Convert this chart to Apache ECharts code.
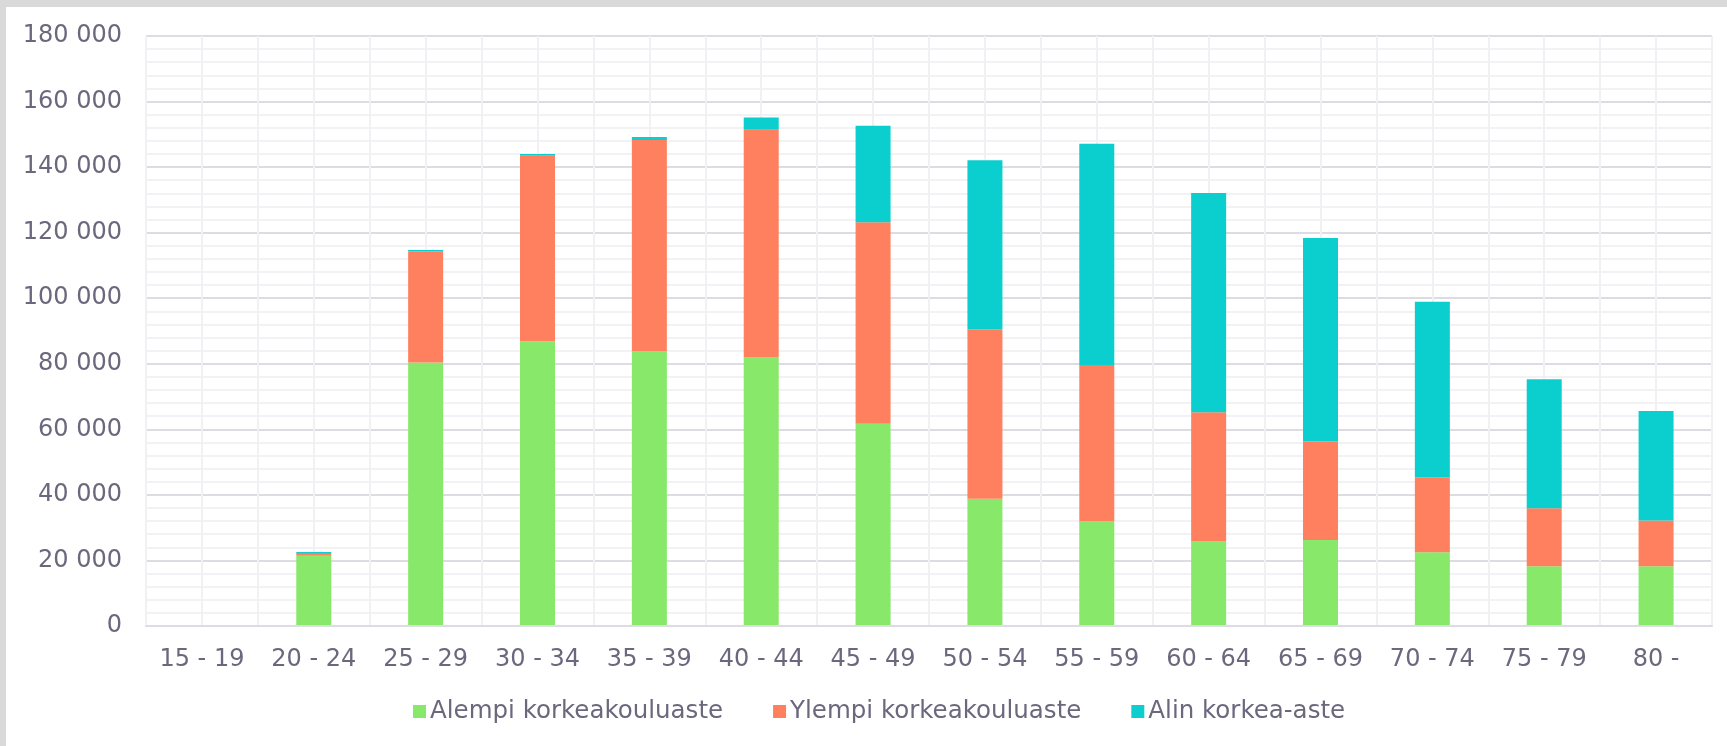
<!DOCTYPE html>
<html>
<head>
<meta charset="utf-8">
<script src="https://cdn.jsdelivr.net/npm/echarts@6/dist/echarts.min.js"></script>
<style>
  html, body { margin: 0; padding: 0; background: #d9d9d9; width: 1727px; height: 746px; overflow: hidden; }
  #chart { position: absolute; left: 6px; top: 7px; width: 1721px; height: 739px; background: #ffffff; }
</style>
</head>
<body>
<div id="chart"></div>
<script>
const categories = ['15 - 19', '20 - 24', '25 - 29', '30 - 34', '35 - 39', '40 - 44', '45 - 49', '50 - 54', '55 - 59', '60 - 64', '65 - 69', '70 - 74', '75 - 79', '80 -'];
const seriesNames = ['Alempi korkeakouluaste', 'Ylempi korkeakouluaste', 'Alin korkea-aste'];
const alempi = [0, 21400, 80400, 86900, 83900, 82100, 61700, 38800, 32000, 25900, 26200, 22500, 18200, 18200];
const ylempi = [0, 850, 33900, 56600, 64400, 69300, 61500, 51700, 47600, 39300, 30100, 22900, 17700, 14000];
const alin = [0, 300, 400, 500, 900, 3700, 29400, 51600, 67500, 66900, 62100, 53500, 39400, 33400];
const yTicks = { min: 0, max: 180000, interval: 20000 };

const colors = ['#87e86a', '#ff805e', '#0bcfcf'];
const textColor = '#6b687d';
const font = 'DejaVu Sans';

const halfSlots = [];
categories.forEach(() => { halfSlots.push(''); halfSlots.push(''); });

const chart = echarts.init(document.getElementById('chart'), null, { renderer: 'canvas' });
chart.setOption({
  animation: false,
  color: colors,
  textStyle: { fontFamily: font },
  grid: { left: 140, top: 29, right: 15, bottom: 120, containLabel: false },
  legend: {
    data: seriesNames,
    left: 407,
    top: 692,
    padding: 0,
    icon: 'rect',
    itemWidth: 13,
    itemHeight: 13,
    itemGap: 50,
    textStyle: { color: textColor, fontSize: 24.5, fontFamily: font, padding: [0, 0, 0, -1] }
  },
  xAxis: [
    {
      type: 'category',
      data: categories,
      axisTick: { show: false },
      axisLine: { show: true, lineStyle: { color: '#dcdce2', width: 2 } },
      axisLabel: { color: textColor, fontSize: 24, fontFamily: font, margin: 22, interval: 0 },
      splitLine: { show: false },
      z: 3
    },
    {
      type: 'category',
      data: halfSlots,
      position: 'bottom',
      boundaryGap: true,
      axisTick: { show: false },
      axisLine: { show: false },
      axisLabel: { show: false },
      splitLine: { show: true, interval: 0, lineStyle: { color: '#f1f1f3', width: 2 } }
    }
  ],
  yAxis: {
    type: 'value',
    min: yTicks.min,
    max: yTicks.max,
    interval: yTicks.interval,
    axisLine: { show: false },
    axisTick: { show: false },
    axisLabel: {
      color: textColor, fontSize: 24, fontFamily: font, margin: 24,
      formatter: v => String(v).replace(/\B(?=(\d{3})+(?!\d))/g, ' ')
    },
    splitLine: { show: true, lineStyle: { color: '#dcdce2', width: 2 } },
    minorTick: { show: false, splitNumber: 5 },
    minorSplitLine: { show: true, lineStyle: { color: '#f2f2f4', width: 2 } }
  },
  series: [
    { name: seriesNames[0], type: 'bar', stack: 'total', data: alempi, barWidth: 35, itemStyle: { color: colors[0] } },
    { name: seriesNames[1], type: 'bar', stack: 'total', data: ylempi, barWidth: 35, itemStyle: { color: colors[1] } },
    { name: seriesNames[2], type: 'bar', stack: 'total', data: alin, barWidth: 35, itemStyle: { color: colors[2] } }
  ]
});
</script>
</body>
</html>
